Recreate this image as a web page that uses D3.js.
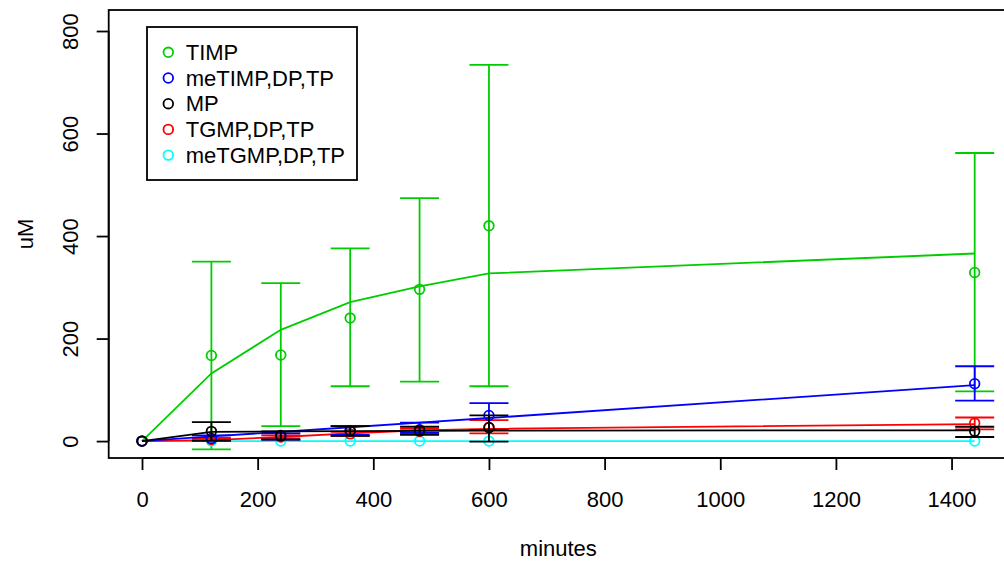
<!DOCTYPE html>
<html>
<head>
<meta charset="utf-8">
<script src="https://cdn.jsdelivr.net/npm/d3@7"></script>
<style>
  html, body { margin: 0; padding: 0; background: #fff; }
  svg { display: block; font-family: "Liberation Sans", Arial, Helvetica, sans-serif; }
</style>
</head>
<body>
<svg id="chart" width="1004" height="562"></svg>
<script>
// ---- data ----
const times = [0, 120, 240, 360, 480, 600, 1440];

const timpMean = [0, 167, 168, 240, 296, 420, 329];
const timpLo   = [0, -16, 29, 107, 116, 107, 97];
const timpHi   = [0, 350, 308, 376, 474, 734, 562];
const timpFit  = [0, 132, 217, 271, 302, 327, 366];

const metimpMean = [0, 5, 10, 20, 22, 50, 112];
const metimpLo   = [0, 1, 3, 12, 16, 22, 79];
const metimpHi   = [0, 11, 15, 29, 36, 74, 146];
const metimpFit  = [0, 9, 18, 27, 36, 45, 109];

const mpMean = [0, 19, 11, 20, 20, 26, 19];
const mpLo   = [0, 1, 3, 10, 12, -1, 8];
const mpHi   = [0, 37, 19, 29, 28, 50, 28];
const mpFit  = [0, 18, 19, 19.5, 20, 20.5, 21];

const tgmpMean = [0, 3, 8, 14, 19, 27, 35];
const tgmpLo   = [0, 1, 5, 10, 15, 15, 23];
const tgmpHi   = [0, 6, 11, 18, 24, 41, 46];
const tgmpFit  = [0, 2, 8, 15, 21, 24, 33];

const metgmpMean = [0, 0, 0, 0, 0, 0, 0];
const metgmpLo   = [0, 0, 0, 0, 0, 0, 0];
const metgmpHi   = [0, 0, 0, 0, 0, 0, 0];
const metgmpFit  = [0, 0, 0, 0, 0, 0, 0];

const legendLabels = ["TIMP", "meTIMP,DP,TP", "MP", "TGMP,DP,TP", "meTGMP,DP,TP"];
const legendColors = ["#00CD00", "#0000FF", "#000000", "#FF0000", "#00FFFF"];

const xTicks = [0, 200, 400, 600, 800, 1000, 1200, 1400];
const yTicks = [0, 200, 400, 600, 800];
const xLabel = "minutes";
const yLabel = "uM";

// series in drawing order (black last so it sits on top)
const series = [
  {name: "TIMP", color: "#00CD00", mean: timpMean, lo: timpLo, hi: timpHi, fit: timpFit},
  {name: "meTGMP,DP,TP", color: "#00FFFF", mean: metgmpMean, lo: metgmpLo, hi: metgmpHi, fit: metgmpFit},
  {name: "TGMP,DP,TP", color: "#FF0000", mean: tgmpMean, lo: tgmpLo, hi: tgmpHi, fit: tgmpFit},
  {name: "meTIMP,DP,TP", color: "#0000FF", mean: metimpMean, lo: metimpLo, hi: metimpHi, fit: metimpFit},
  {name: "MP", color: "#000000", mean: mpMean, lo: mpLo, hi: mpHi, fit: mpFit}
];

// ---- layout ----
const svg = d3.select("#chart");
const plot = {left: 108.7, right: 1008, top: 10, bottom: 458};

const x = d3.scaleLinear().domain([-57.6, 1497.6]).range([plot.left, plot.right]);
const y = d3.scaleLinear().domain([-33, 841]).range([plot.bottom, plot.top]);

const fontSize = 22;
const lw = 1.8;

svg.append("defs").append("clipPath").attr("id", "clip")
  .append("rect").attr("x", plot.left).attr("y", plot.top)
  .attr("width", plot.right - plot.left).attr("height", plot.bottom - plot.top);

const g = svg.append("g").attr("clip-path", "url(#clip)");

const capHalf = 19.5;
series.forEach(s => {
  const pts = times.map((t, i) => ({t, m: s.mean[i], lo: s.lo[i], hi: s.hi[i], f: s.fit[i]}));
  const sg = g.append("g");
  sg.append("path")
    .datum(pts)
    .attr("fill", "none")
    .attr("stroke", s.color)
    .attr("stroke-width", lw)
    .attr("d", d3.line().x(d => x(d.t)).y(d => y(d.f)));
  const eb = pts.filter(d => d.hi !== d.lo);
  eb.forEach(d => {
    const cx = x(d.t);
    sg.append("line").attr("x1", cx).attr("x2", cx).attr("y1", y(d.lo)).attr("y2", y(d.hi))
      .attr("stroke", s.color).attr("stroke-width", lw);
    [d.lo, d.hi].forEach(v => {
      sg.append("line").attr("x1", cx - capHalf).attr("x2", cx + capHalf)
        .attr("y1", y(v)).attr("y2", y(v))
        .attr("stroke", s.color).attr("stroke-width", lw);
    });
  });
  sg.selectAll("circle").data(pts).enter().append("circle")
    .attr("cx", d => x(d.t)).attr("cy", d => y(d.m)).attr("r", 4.8)
    .attr("fill", "none").attr("stroke", s.color).attr("stroke-width", lw);
});

svg.append("rect").attr("x", plot.left).attr("y", plot.top)
  .attr("width", plot.right - plot.left).attr("height", plot.bottom - plot.top)
  .attr("fill", "none").attr("stroke", "#000").attr("stroke-width", 1.8);

const xAxis = d3.axisBottom(x).tickValues(xTicks).tickSize(12).tickFormat(d3.format("d"));
const xg = svg.append("g").attr("transform", `translate(0,${plot.bottom})`).call(xAxis);
xg.select(".domain").attr("d", `M${x(0)},0H${x(1400)}`).attr("stroke-width", 1.8);
xg.selectAll(".tick line").attr("stroke-width", 1.8);
xg.selectAll("text").attr("font-size", fontSize).attr("font-family", "Liberation Sans, Arial, sans-serif")
  .attr("fill", "#000").attr("dy", "0.35em").attr("y", 41);

const yAxis = d3.axisLeft(y).tickValues(yTicks).tickSize(12).tickFormat(d3.format("d"));
const yg = svg.append("g").attr("transform", `translate(${plot.left},0)`).call(yAxis);
yg.select(".domain").attr("d", `M0,${y(0)}V${y(800)}`).attr("stroke-width", 1.8);
yg.selectAll(".tick line").attr("stroke-width", 1.8);
yg.selectAll("text")
  .attr("font-size", fontSize).attr("font-family", "Liberation Sans, Arial, sans-serif").attr("fill", "#000")
  .attr("x", null).attr("dy", "0.35em")
  .attr("text-anchor", "middle")
  .attr("transform", "translate(-38,0) rotate(-90)")
  .attr("y", 0);

svg.append("text").attr("x", (plot.left + plot.right) / 2).attr("y", 548).attr("dy", "0.35em")
  .attr("text-anchor", "middle").attr("font-size", fontSize).text(xLabel);
svg.append("text").attr("transform", `translate(25,${(plot.top + plot.bottom) / 2}) rotate(-90)`)
  .attr("dy", "0.35em")
  .attr("text-anchor", "middle").attr("font-size", fontSize).text(yLabel);

const leg = svg.append("g");
leg.append("rect").attr("x", 147).attr("y", 27).attr("width", 210).attr("height", 153)
  .attr("fill", "#fff").attr("stroke", "#000").attr("stroke-width", 1.8);
legendLabels.forEach((lab, i) => {
  const cy = 52.3 + i * 25.7;
  leg.append("circle").attr("cx", 168.3).attr("cy", cy).attr("r", 4.8)
    .attr("fill", "none").attr("stroke", legendColors[i]).attr("stroke-width", lw);
  leg.append("text").attr("x", 185.7).attr("y", cy).attr("dy", "0.35em")
    .attr("font-size", fontSize).text(lab);
});
</script>
</body>
</html>
